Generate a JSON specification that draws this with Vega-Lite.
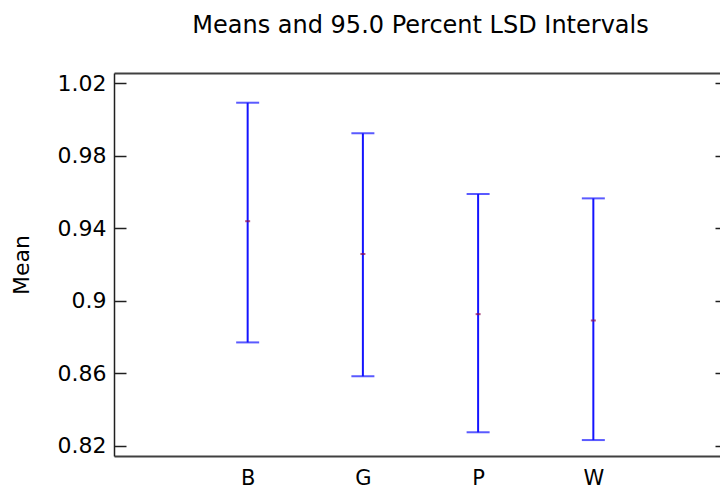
{
  "$schema": "https://vega.github.io/schema/vega-lite/v6.json",
  "autosize": {"type": "none"},
  "padding": {"left": 114, "top": 73, "right": -7, "bottom": 32},
  "width": 613,
  "height": 383,
  "background": "white",
  "config": {
    "view": {"stroke": null},
    "font": "DejaVu Sans",
    "axis": {"labelFont": "DejaVu Sans", "titleFont": "DejaVu Sans", "labelColor": "#000000", "titleColor": "#000000", "grid": false}
  },
  "title": {
    "text": "Means and 95.0 Percent LSD Intervals",
    "font": "DejaVu Sans",
    "fontSize": 24,
    "fontWeight": "normal",
    "color": "#000000",
    "anchor": "middle",
    "frame": "group",
    "baseline": "alphabetic",
    "offset": 15
  },
  "data": {
    "values": [
      {"group": "B", "mean": 0.9439, "lower": 0.877, "upper": 1.0093},
      {"group": "G", "mean": 0.9258, "lower": 0.8583, "upper": 0.9924},
      {"group": "P", "mean": 0.8926, "lower": 0.8274, "upper": 0.9589},
      {"group": "W", "mean": 0.8891, "lower": 0.8231, "upper": 0.9565}
    ]
  },
  "layer": [
    {
      "mark": {"type": "rule", "color": "#1414ff", "strokeWidth": 2},
      "encoding": {
        "x": {"field": "group", "type": "nominal", "sort": null,
              "scale": {"type": "point", "domain": ["", "B", "G", "P", "W", " "], "padding": 0.16},
              "axis": {"orient": "bottom", "title": null, "labelAngle": 0, "ticks": false, "labelFontSize": 21, "labelBaseline": "alphabetic", "labelPadding": 28, "domainColor": "#404040", "domainWidth": 2}},
        "y": {"field": "lower", "type": "quantitative",
              "scale": {"domain": [0.8143, 1.0257], "nice": false, "zero": false},
              "axis": {"orient": "left", "title": "Mean", "titleFontSize": 22, "titleFontWeight": "normal", "titlePadding": 24, "values": [0.82, 0.86, 0.9, 0.94, 0.98, 1.02], "format": ".2~f", "labelFontSize": 22, "labelPadding": 20, "tickSize": -12, "tickColor": "#202020", "tickWidth": 1.5, "domainColor": "#202020", "domainWidth": 1.5}},
        "y2": {"field": "upper"}
      }
    },
    {
      "mark": {"type": "tick", "color": "#1414ff", "size": 23, "thickness": 2},
      "encoding": {
        "x": {"field": "group", "type": "nominal", "sort": null,
              "axis": {"orient": "top", "title": null, "labels": false, "ticks": false, "minExtent": 0, "maxExtent": 0, "domainColor": "#404040", "domainWidth": 2}},
        "y": {"field": "upper", "type": "quantitative",
              "axis": {"orient": "right", "title": null, "labels": false, "domain": false, "values": [0.82, 0.86, 0.9, 0.94, 0.98, 1.02], "tickSize": -12, "tickColor": "#202020", "tickWidth": 1.5}}
      }
    },
    {
      "mark": {"type": "tick", "color": "#1414ff", "size": 23, "thickness": 2},
      "encoding": {
        "x": {"field": "group", "type": "nominal", "sort": null, "axis": null},
        "y": {"field": "lower", "type": "quantitative", "axis": null}
      }
    },
    {
      "mark": {"type": "tick", "color": "#8b0a50", "size": 5, "thickness": 2},
      "encoding": {
        "x": {"field": "group", "type": "nominal", "sort": null, "axis": null},
        "y": {"field": "mean", "type": "quantitative", "axis": null}
      }
    }
  ],
  "resolve": {"axis": {"x": "independent", "y": "independent"}}
}
